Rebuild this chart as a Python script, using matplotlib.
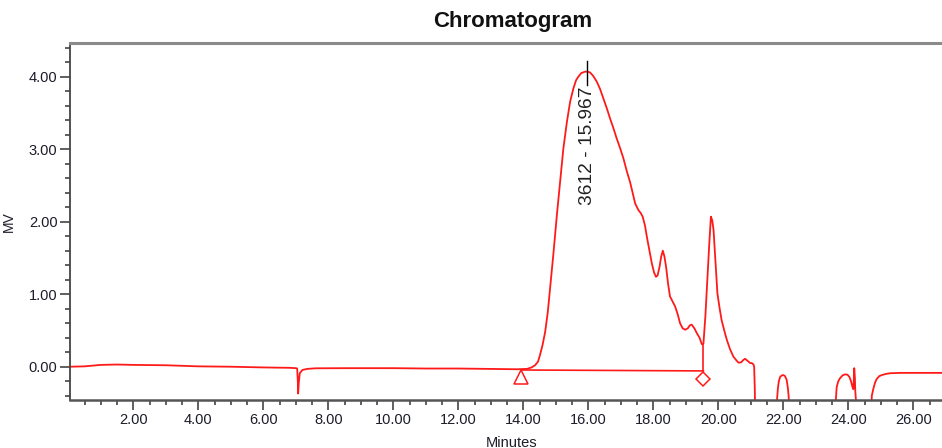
import matplotlib
matplotlib.use('Agg')
import matplotlib.pyplot as plt
from matplotlib.ticker import MultipleLocator, FormatStrFormatter
from matplotlib.transforms import offset_copy

plt.rcParams['font.family'] = ['Liberation Sans', 'DejaVu Sans']

# Detector trace (minutes, MV)
time_min = [0.05, 0.5, 1.0, 1.5, 2.0, 3.0, 4.0, 5.0, 6.0, 6.8, 7.0, 7.04,
            7.06, 7.07, 7.09, 7.12, 7.2, 7.35, 7.6, 8.5, 10.0, 11.0, 12.0,
            13.0, 13.8, 14.11, 14.25, 14.36, 14.45, 14.51, 14.59, 14.67,
            14.75, 14.82, 14.92, 15.03, 15.13, 15.23, 15.34, 15.44, 15.54,
            15.62, 15.69, 15.78, 15.9, 15.96, 16.05, 16.15, 16.26, 16.36,
            16.46, 16.57, 16.67, 16.77, 16.87, 16.98, 17.08, 17.18, 17.28,
            17.34, 17.44, 17.54, 17.61, 17.67, 17.74, 17.8, 17.88, 17.95,
            18.02, 18.08, 18.13, 18.19, 18.24, 18.29, 18.34, 18.39, 18.45,
            18.51, 18.59, 18.67, 18.75, 18.82, 18.9, 18.98, 19.06, 19.12,
            19.18, 19.26, 19.34, 19.42, 19.49, 19.54, 19.6, 19.66, 19.72,
            19.77, 19.81, 19.85, 19.91, 19.97, 20.04, 20.1, 20.18, 20.26,
            20.36, 20.46, 20.55, 20.62, 20.7, 20.76, 20.82, 20.9, 20.98,
            21.03, 21.08, 21.1, 21.12, 21.14, 21.5, 21.77, 21.8, 21.83,
            21.86, 21.9, 21.95, 22.0, 22.05, 22.1, 22.14, 22.16, 22.19,
            22.8, 23.58, 23.61, 23.64, 23.69, 23.74, 23.82, 23.9, 23.97,
            24.03, 24.08, 24.12, 24.15, 24.17, 24.18, 24.2, 24.21, 24.23,
            24.25, 24.5, 24.68, 24.72, 24.77, 24.82, 24.87, 24.95, 25.03,
            25.15, 25.28, 25.6, 26.0, 26.5, 26.88]
signal_mv = [0.0, 0.005, 0.025, 0.03, 0.025, 0.02, 0.005, 0.0, -0.01, -0.015,
             -0.02, -0.025, -0.2, -0.37, -0.22, -0.09, -0.045, -0.03, -0.022,
             -0.02, -0.02, -0.025, -0.025, -0.03, -0.035, -0.03, -0.01, 0.02,
             0.07, 0.16, 0.3, 0.48, 0.75, 1.08, 1.54, 2.09, 2.55, 3.01, 3.38,
             3.66, 3.84, 3.95, 4.0, 4.05, 4.07, 4.07, 4.06, 4.01, 3.93, 3.83,
             3.7, 3.56, 3.42, 3.29, 3.15, 3.01, 2.87, 2.7, 2.55, 2.44, 2.25,
             2.16, 2.12, 2.07, 1.95, 1.79, 1.6, 1.43, 1.3, 1.24, 1.26, 1.38,
             1.52, 1.6, 1.52, 1.38, 1.15, 0.97, 0.9, 0.83, 0.72, 0.6, 0.53,
             0.51, 0.53, 0.57, 0.58, 0.53, 0.46, 0.4, 0.31, 0.32, 0.7, 1.2,
             1.7, 2.07, 2.02, 1.89, 1.45, 1.01, 0.8, 0.64, 0.5, 0.37, 0.24,
             0.14, 0.09, 0.055, 0.06, 0.09, 0.11, 0.08, 0.05, 0.05, 0.03, 0.0,
             -0.3, -1.0, -1.0, -1.0, -0.48, -0.3, -0.2, -0.14, -0.12, -0.115,
             -0.13, -0.18, -0.3, -0.4, -0.6, -1.0, -1.0, -0.48, -0.28, -0.2,
             -0.16, -0.12, -0.105, -0.11, -0.14, -0.2, -0.27, -0.31, -0.15,
             -0.02, -0.15, -0.32, -0.45, -0.7, -1.0, -1.0, -0.4, -0.3, -0.22,
             -0.17, -0.13, -0.115, -0.1, -0.09, -0.085, -0.085, -0.085, -0.085]

# Integrated peak: start/end times, baseline levels, apex and label
peak_start, peak_end = 13.93, 19.54
base_start, base_end = -0.045, -0.058
drop_top = 0.32
apex_time = 15.967
apex_tick = [3.88, 4.22]
peak_label = '3612 - 15.967'

fig = plt.figure(figsize=(9.42, 4.48), dpi=100)
ax = fig.add_axes([0.0743, 0.107, 0.9257, 0.797])

red = '#ff1a1a'
ax.plot(time_min, signal_mv, color=red, lw=1.3, clip_on=True)

# baseline + drop line
ax.plot([peak_start, peak_end], [base_start, base_end], color=red, lw=1.2)
ax.plot([peak_end, peak_end], [base_end, drop_top], color=red, lw=1.2)

tri_tr = offset_copy(ax.transData, fig=fig, y=-5, units='points')
dia_tr = offset_copy(ax.transData, fig=fig, y=-6, units='points')
ax.plot([peak_start], [base_start], marker='^', ms=10, mfc='white', mec=red,
        mew=1.1, ls='none', transform=tri_tr, clip_on=False)
ax.plot([peak_end], [base_end], marker='D', ms=7.5, mfc='white', mec=red,
        mew=1.1, ls='none', transform=dia_tr, clip_on=False)

# apex mark and label
ax.plot([apex_time, apex_time], apex_tick, color='black', lw=1.0)
ax.text(apex_time, 3.87, peak_label, rotation=90, ha='center', va='top',
        fontsize=13.8, color='#222222')

ax.set_xlim(0.05, 26.88)
ax.set_ylim(-0.46, 4.465)
ax.xaxis.set_major_locator(MultipleLocator(2))
ax.xaxis.set_minor_locator(MultipleLocator(0.5))
ax.yaxis.set_major_locator(MultipleLocator(1))
ax.yaxis.set_minor_locator(MultipleLocator(0.2))
ax.xaxis.set_major_formatter(FormatStrFormatter('%.2f'))
ax.yaxis.set_major_formatter(FormatStrFormatter('%.2f'))
ax.set_xticks([t for t in range(2, 27, 2)])

ax.tick_params(axis='both', which='major', direction='out', length=7,
               width=1.2, color='#444444', labelsize=10.5, labelcolor='#1c1c2a',
               pad=2)
ax.tick_params(axis='both', which='minor', direction='out', length=3.5,
               width=1.2, color='#444444')

ax.spines['right'].set_visible(False)
ax.spines['top'].set_color('#8a8a8a')
ax.spines['top'].set_linewidth(2.2)
ax.spines['bottom'].set_color('#555555')
ax.spines['bottom'].set_linewidth(1.8)
ax.spines['left'].set_color('#444444')
ax.spines['left'].set_linewidth(1.3)

ax.set_xlabel('Minutes', fontsize=10.5, color='#1c1c2a', labelpad=-1)
ax.xaxis.set_label_coords(0.506, -0.1)
ax.set_ylabel('MV', fontsize=10, color='#1c1c2a')
ax.yaxis.set_label_coords(-0.062, 0.5)

fig.text(0.544, 0.953, 'Chromatogram', ha='center', va='center',
         fontsize=16, fontweight='bold', color='#111111')

fig.savefig('out.png', dpi=100)
